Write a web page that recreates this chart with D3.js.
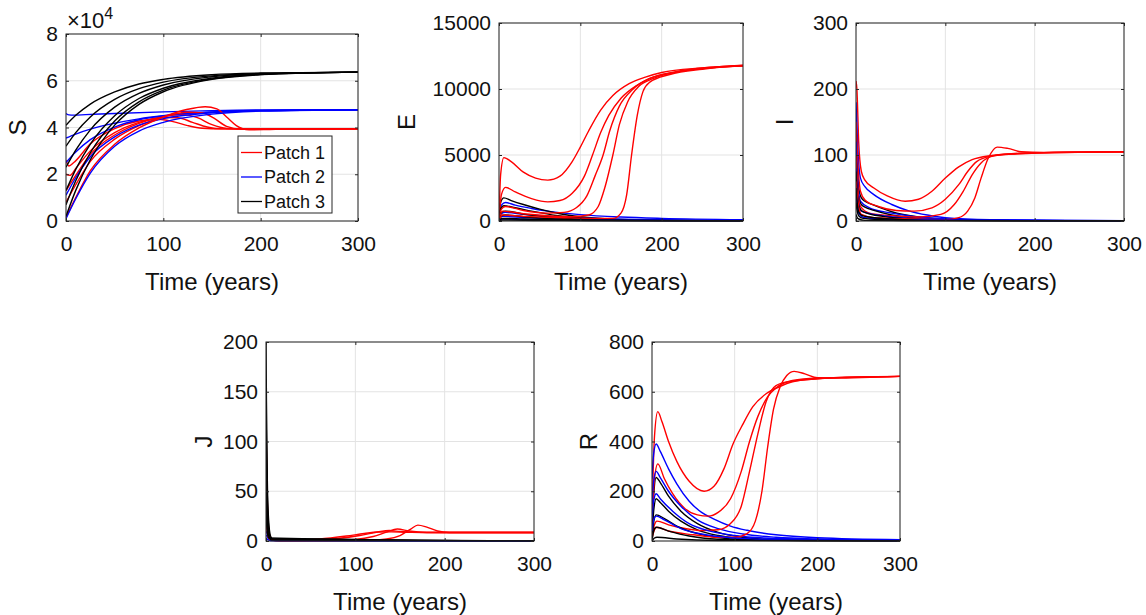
<!DOCTYPE html>
<html>
<head>
<meta charset="utf-8">
<script src="https://cdn.jsdelivr.net/npm/d3@7/dist/d3.min.js"></script>
<style>
  body { margin: 0; background: #fff; }
  svg { font-family: "Liberation Sans", Arial, Helvetica, sans-serif; }
</style>
</head>
<body>
<svg id="fig" width="1146" height="615"></svg>
<script>
// ---- data: each curve is a list of [time (years), value] ----
var timeTicks = [0, 100, 200, 300];

// S, in units of 10^4
var sTicks = [0, 2, 4, 6, 8];
var sPatch1 = [
  [[0,2.6],[3,2.35],[8,2.5],[25,3.3],[50,3.95],[75,4.28],[95,4.35],[110,4.25],[125,4.08],[140,3.97],[160,3.94],[300,3.94]],
  [[0,2.0],[4,1.95],[10,2.25],[25,3.0],[50,3.78],[75,4.22],[100,4.43],[115,4.42],[130,4.22],[145,4.02],[160,3.94],[300,3.94]],
  [[0,1.3],[10,1.95],[25,2.85],[50,3.68],[75,4.18],[100,4.47],[120,4.55],[135,4.42],[150,4.12],[165,3.96],[185,3.93],[300,3.94]],
  [[0,0.8],[10,1.55],[25,2.55],[50,3.5],[75,4.08],[100,4.45],[125,4.65],[140,4.62],[152,4.4],[165,4.05],[180,3.93],[200,3.92],[300,3.94]],
  [[0,0.15],[10,1.0],[25,2.15],[50,3.28],[75,3.98],[100,4.45],[125,4.78],[143,4.89],[155,4.8],[165,4.45],[175,4.08],[188,3.9],[205,3.91],[230,3.94],[300,3.94]]
];
var sPatch2 = [
  [[0,4.6],[3,4.54],[8,4.53],[20,4.55],[50,4.6],[100,4.67],[150,4.72],[200,4.75],[300,4.76]],
  [[0,3.55],[10,3.72],[25,3.93],[50,4.18],[75,4.37],[100,4.5],[150,4.65],[200,4.72],[300,4.76]],
  [[0,2.5],[10,2.95],[25,3.48],[50,4.02],[75,4.33],[100,4.5],[150,4.67],[200,4.73],[300,4.76]],
  [[0,1.1],[10,1.85],[25,2.75],[50,3.6],[75,4.1],[100,4.38],[150,4.63],[200,4.72],[300,4.76]],
  [[0,0.1],[10,0.95],[25,2.05],[50,3.2],[75,3.85],[100,4.22],[150,4.57],[200,4.7],[300,4.76]]
];
var sPatch3 = [
  [[0,4.1],[10,4.52],[25,5.0],[50,5.52],[75,5.86],[100,6.06],[150,6.26],[200,6.33],[300,6.37]],
  [[0,3.2],[10,3.78],[25,4.45],[50,5.2],[75,5.66],[100,5.94],[150,6.21],[200,6.31],[300,6.37]],
  [[0,2.3],[10,3.03],[25,3.9],[50,4.87],[75,5.46],[100,5.82],[150,6.17],[200,6.3],[300,6.37]],
  [[0,1.3],[10,2.21],[25,3.29],[50,4.5],[75,5.24],[100,5.68],[150,6.11],[200,6.28],[300,6.37]],
  [[0,0.7],[10,1.72],[25,2.92],[50,4.28],[75,5.1],[100,5.6],[150,6.08],[200,6.27],[300,6.37]],
  [[0,0.2],[10,1.31],[25,2.62],[50,4.1],[75,4.99],[100,5.53],[150,6.06],[200,6.26],[300,6.37]]
];

// E
var eTicks = [0, 5000, 10000, 15000];
var ePatch1 = [
  [[0,0],[2,3500],[6,4800],[15,4500],[30,3700],[45,3250],[60,3100],[75,3400],[90,4500],[100,5600],[110,6800],[125,8400],[140,9500],[160,10400],[180,10900],[200,11250],[250,11600],[300,11800]],
  [[0,0],[3,2000],[8,2550],[20,2200],[40,1700],[60,1450],[75,1550],[90,2100],[105,3400],[115,5000],[125,6700],[135,8000],[150,9300],[170,10300],[190,10900],[220,11350],[300,11780]],
  [[0,0],[3,900],[8,1100],[30,800],[60,600],[80,650],[95,1000],[108,1900],[118,3400],[128,5000],[136,6800],[148,8700],[165,10000],[185,10800],[220,11300],[300,11750]],
  [[0,0],[4,750],[30,550],[60,400],[90,330],[110,450],[122,1100],[130,2500],[140,5000],[148,7300],[158,9000],[172,10200],[190,10800],[220,11300],[300,11750]],
  [[0,0],[4,450],[30,350],[80,250],[120,200],[140,200],[150,600],[157,2000],[163,5000],[170,8000],[177,9800],[185,10500],[210,11100],[250,11500],[300,11750]]
];
var ePatch2 = [
  [[0,0],[3,1200],[8,1400],[20,1200],[40,950],[60,750],[80,600],[100,480],[150,300],[200,200],[300,100]],
  [[0,0],[3,550],[8,650],[30,500],[60,360],[100,230],[150,140],[200,90],[300,40]],
  [[0,0],[4,350],[30,260],[60,180],[100,110],[150,60],[300,20]],
  [[0,0],[4,150],[30,110],[80,60],[150,25],[300,5]]
];
var ePatch3 = [
  [[0,0],[2,1400],[6,1750],[15,1550],[30,1250],[50,900],[75,550],[100,330],[150,110],[200,40],[300,5]],
  [[0,0],[2,900],[6,1150],[20,1000],[40,750],[70,420],[100,230],[150,70],[300,5]],
  [[0,0],[3,650],[8,750],[30,520],[60,300],[100,130],[150,40],[300,3]],
  [[0,0],[3,400],[8,450],[30,320],[70,150],[120,50],[300,2]],
  [[0,0],[4,200],[30,150],[80,60],[150,15],[300,1]],
  [[0,0],[4,80],[50,40],[150,8],[300,0]]
];

// I
var iTicks = [0, 100, 200, 300];
var iPatch1 = [
  [[0,212],[1,200],[3,120],[6,75],[10,62],[20,50],[35,38],[55,30],[70,33],[85,45],[100,65],[115,82],[130,93],[150,99],[180,102],[220,104],[300,105]],
  [[0,150],[2,90],[5,45],[10,32],[25,22],[45,16],[65,15],[85,20],[100,33],[115,55],[125,75],[135,90],[150,98],[180,102],[300,105]],
  [[0,100],[2,50],[5,22],[15,12],[40,8],[70,6],[95,10],[110,25],[120,45],[130,70],[140,88],[155,99],[190,103],[300,105]],
  [[0,60],[2,30],[6,10],[20,5],[60,3],[100,2],[115,5],[125,15],[133,35],[140,65],[148,95],[158,112],[170,110],[185,105],[210,104],[300,105]]
];
var iPatch2 = [
  [[0,180],[2,110],[5,65],[10,52],[20,40],[40,25],[60,15],[80,9],[100,5],[150,2],[300,0.5]],
  [[0,120],[2,60],[5,30],[15,20],[40,12],[80,5],[150,1],[300,0]],
  [[0,80],[2,35],[6,15],[30,8],[80,3],[300,0]],
  [[0,40],[3,12],[10,5],[50,2],[300,0]]
];
var iPatch3 = [
  [[0,130],[1,95],[3,50],[6,35],[10,30],[20,24],[40,14],[70,6],[100,2.5],[150,0.6],[300,0]],
  [[0,100],[1,70],[3,35],[6,25],[10,21],[20,16],[40,9],[70,4],[100,1.5],[150,0.3],[300,0]],
  [[0,75],[1,50],[3,24],[6,16],[12,12],[30,7],[60,3],[100,1],[300,0]],
  [[0,50],[1,32],[3,14],[6,9],[15,6],[40,3],[80,1],[300,0]],
  [[0,28],[1,18],[3,8],[8,4],[30,2],[80,0.5],[300,0]],
  [[0,10],[1,6],[3,3],[10,1],[50,0.3],[300,0]]
];

// J
var jTicks = [0, 50, 100, 150, 200];
var jPatch1 = [
  [[0,128],[0.5,90],[1.5,40],[3,12],[5,4],[8,1.5],[15,0.8],[30,0.8],[60,2],[90,5],[110,7.5],[125,9],[140,9.2],[160,8.7],[200,8.5],[300,8.5]],
  [[0,90],[0.5,60],[1.5,25],[3,8],[5,2.5],[10,0.6],[40,0.5],[80,2.5],[105,5.5],[125,9],[138,10.5],[150,9.5],[175,8.6],[300,8.5]],
  [[0,55],[0.5,38],[1.5,16],[3,5],[6,1],[15,0.3],[70,0.4],[100,1.5],[120,4.5],[135,9],[147,12],[160,10],[180,8.6],[300,8.5]],
  [[0,30],[0.5,20],[1.5,9],[3,3],[6,0.6],[15,0.2],[110,0.4],[135,2],[150,5.5],[162,12],[170,16],[180,14],[192,10],[205,8.6],[300,8.5]]
];
var jPatch2 = [
  [[0,15],[1,13],[2,9],[4,4],[7,1],[12,0.3],[300,0]],
  [[0,10],[1,8],[2,6],[4,2.5],[7,0.6],[300,0]],
  [[0,6],[1,5],[3,2],[6,0.4],[300,0]],
  [[0,3],[2,1.5],[5,0.3],[300,0]]
];
var jPatch3 = [
  [[0,200],[0.5,140],[1.5,60],[3,20],[5,5],[8,1],[15,0.3],[300,0]],
  [[0,150],[0.5,100],[1.5,45],[3,14],[5,3],[10,0.5],[300,0]],
  [[0,100],[0.5,70],[1.5,30],[3,9],[6,2],[300,0]],
  [[0,60],[0.5,40],[1.5,18],[3,5],[6,1],[300,0]],
  [[0,30],[0.5,20],[1.5,9],[3,3],[300,0]]
];

// R
var rTicks = [0, 200, 400, 600, 800];
var rPatch1 = [
  [[0,100],[3,420],[7,520],[12,480],[20,400],[30,320],[45,240],[63,200],[75,220],[87,290],[98,390],[110,470],[122,540],[138,592],[154,620],[170,640],[200,652],[250,660],[300,662]],
  [[0,60],[3,250],[7,310],[15,250],[25,190],[40,130],[55,105],[68,100],[80,115],[95,170],[108,280],[118,400],[128,500],[140,580],[150,615],[165,640],[200,652],[300,662]],
  [[0,20],[3,65],[6,80],[20,65],[40,50],[60,42],[80,45],[95,70],[108,140],[118,280],[128,430],[138,560],[150,625],[170,645],[200,655],[300,662]],
  [[0,10],[3,45],[6,55],[20,40],[50,25],[80,15],[100,15],[115,30],[125,80],[133,200],[140,380],[147,530],[155,620],[163,665],[172,682],[185,672],[200,656],[220,655],[300,662]]
];
var rPatch2 = [
  [[0,250],[2,350],[5,390],[10,360],[20,290],[30,230],[45,160],[60,115],[75,88],[95,60],[115,43],[150,25],[200,13],[300,5]],
  [[0,150],[2,240],[5,280],[10,255],[20,200],[35,140],[55,85],[80,50],[110,28],[150,15],[200,8],[300,3]],
  [[0,90],[2,160],[5,190],[10,170],[25,120],[45,70],[70,40],[100,22],[150,10],[300,2]],
  [[0,40],[2,85],[5,100],[15,85],[35,50],[60,28],[100,12],[150,5],[300,1]]
];
var rPatch3 = [
  [[0,0],[2,180],[5,255],[10,235],[20,180],[35,120],[55,70],[80,35],[110,15],[150,5],[200,1],[300,0]],
  [[0,0],[2,120],[5,170],[10,155],[20,120],[35,80],[55,45],[80,22],[110,9],[150,3],[300,0]],
  [[0,0],[2,75],[5,105],[15,90],[30,60],[55,30],[85,12],[130,3],[300,0]],
  [[0,0],[2,40],[5,55],[20,40],[45,20],[80,7],[130,2],[300,0]],
  [[0,0],[3,12],[6,15],[30,8],[80,2],[300,0]]
];

var patchNames = ["Patch 1", "Patch 2", "Patch 3"];
var patchColors = ["#ff0000", "#0000ff", "#000000"];

// ---- layout (pixel boxes of the five axes) ----
var panels = [
  { label: "S", patches: [sPatch1, sPatch2, sPatch3], ticks: sTicks, box: [66, 34, 358, 221], labelOff: 40 },
  { label: "E", patches: [ePatch1, ePatch2, ePatch3], ticks: eTicks, box: [499, 23, 743, 221], labelOff: 84 },
  { label: "I", patches: [iPatch1, iPatch2, iPatch3], ticks: iTicks, box: [856, 23, 1124, 221], labelOff: 63 },
  { label: "J", patches: [jPatch1, jPatch2, jPatch3], ticks: jTicks, box: [266, 342, 534, 541], labelOff: 54 },
  { label: "R", patches: [rPatch1, rPatch2, rPatch3], ticks: rTicks, box: [652, 342, 900, 541], labelOff: 55 }
];

var svg = d3.select("#fig");
var axisColor = "#262626";
var gridColor = "#e3e3e3";

panels.forEach(function(p, k) {
  var x0 = p.box[0], y0 = p.box[1], x1 = p.box[2], y1 = p.box[3];
  var x = d3.scaleLinear().domain([0, 300]).range([x0, x1]);
  var y = d3.scaleLinear().domain([0, d3.max(p.ticks)]).range([y1, y0]);

  var g = svg.append("g");

  // grid
  g.selectAll(".gx").data(timeTicks).enter().append("line")
      .attr("x1", function(d) { return x(d); }).attr("x2", function(d) { return x(d); })
      .attr("y1", y0).attr("y2", y1)
      .attr("stroke", gridColor).attr("stroke-width", 1);
  g.selectAll(".gy").data(p.ticks).enter().append("line")
      .attr("y1", function(d) { return y(d); }).attr("y2", function(d) { return y(d); })
      .attr("x1", x0).attr("x2", x1)
      .attr("stroke", gridColor).attr("stroke-width", 1);

  // clip
  var clipId = "clip" + k;
  svg.append("clipPath").attr("id", clipId)
    .append("rect").attr("x", x0).attr("y", y0 - 1).attr("width", x1 - x0).attr("height", y1 - y0 + 1.5);

  var line = d3.line()
      .x(function(d) { return x(d[0]); })
      .y(function(d) { return y(d[1]); })
      .curve(d3.curveMonotoneX);

  // interleave curves: patch 1, 2, 3 for each initial condition
  var curves = [];
  var n = d3.max(p.patches, function(a) { return a.length; });
  for (var i = 0; i < n; i++) {
    p.patches.forEach(function(arr, j) {
      if (arr[i]) curves.push({ pts: arr[i], color: patchColors[j] });
    });
  }
  g.append("g").attr("clip-path", "url(#" + clipId + ")")
    .selectAll("path").data(curves).enter().append("path")
      .attr("d", function(d) { return line(d.pts); })
      .attr("fill", "none")
      .attr("stroke", function(d) { return d.color; })
      .attr("stroke-width", 1.4);

  // axes, ticks pointing inward
  var fmt = d3.format("d");
  g.append("g").attr("transform", "translate(" + x0 + ",0)")
      .call(d3.axisLeft(y).tickValues(p.ticks).tickFormat(fmt).tickSizeInner(-3).tickSizeOuter(0).tickPadding(8));
  g.append("g").attr("transform", "translate(0," + y1 + ")")
      .call(d3.axisBottom(x).tickValues(timeTicks).tickFormat(fmt).tickSizeInner(-3).tickSizeOuter(0).tickPadding(15));
  g.append("g").attr("transform", "translate(" + x1 + ",0)")
      .call(d3.axisRight(y).tickValues(p.ticks).tickFormat("").tickSizeInner(-3).tickSizeOuter(0));
  g.append("g").attr("transform", "translate(0," + y0 + ")")
      .call(d3.axisTop(x).tickValues(timeTicks).tickFormat("").tickSizeInner(-3).tickSizeOuter(0));
  g.selectAll(".domain").remove();
  g.selectAll(".tick line").attr("stroke", axisColor);
  g.selectAll(".tick text").attr("fill", "#111").attr("font-size", 21);

  g.append("rect")
      .attr("x", x0).attr("y", y0).attr("width", x1 - x0).attr("height", y1 - y0)
      .attr("fill", "none").attr("stroke", axisColor).attr("stroke-width", 1);

  // labels
  g.append("text")
      .attr("transform", "translate(" + (x0 - p.labelOff) + "," + ((y0 + y1) / 2) + ") rotate(-90)")
      .attr("text-anchor", "middle")
      .attr("font-size", 24).attr("fill", "#111")
      .text(p.label);
  g.append("text")
      .attr("x", (x0 + x1) / 2).attr("y", y1 + 69)
      .attr("text-anchor", "middle")
      .attr("font-size", 24).attr("fill", "#111")
      .text("Time (years)");

  if (p.label === "S") {
    var ex = g.append("text").attr("x", x0 + 1).attr("y", y0 - 6).attr("font-size", 22).attr("fill", "#111");
    ex.append("tspan").text("\u00d710");
    ex.append("tspan").attr("font-size", 16).attr("dy", -9).text("4");

    // legend
    var lg = g.append("g");
    lg.append("rect").attr("x", 238).attr("y", 136).attr("width", 94).attr("height", 77)
        .attr("fill", "#fff").attr("stroke", axisColor).attr("stroke-width", 1);
    patchNames.forEach(function(name, j) {
      var cy = 152.5 + j * 24.5;
      lg.append("line").attr("x1", 241).attr("x2", 262).attr("y1", cy).attr("y2", cy)
          .attr("stroke", patchColors[j]).attr("stroke-width", 1.3);
      lg.append("text").attr("x", 264).attr("y", cy).attr("dy", "0.35em")
          .attr("font-size", 18).attr("fill", "#111").text(name);
    });
  }
});
</script>
</body>
</html>
